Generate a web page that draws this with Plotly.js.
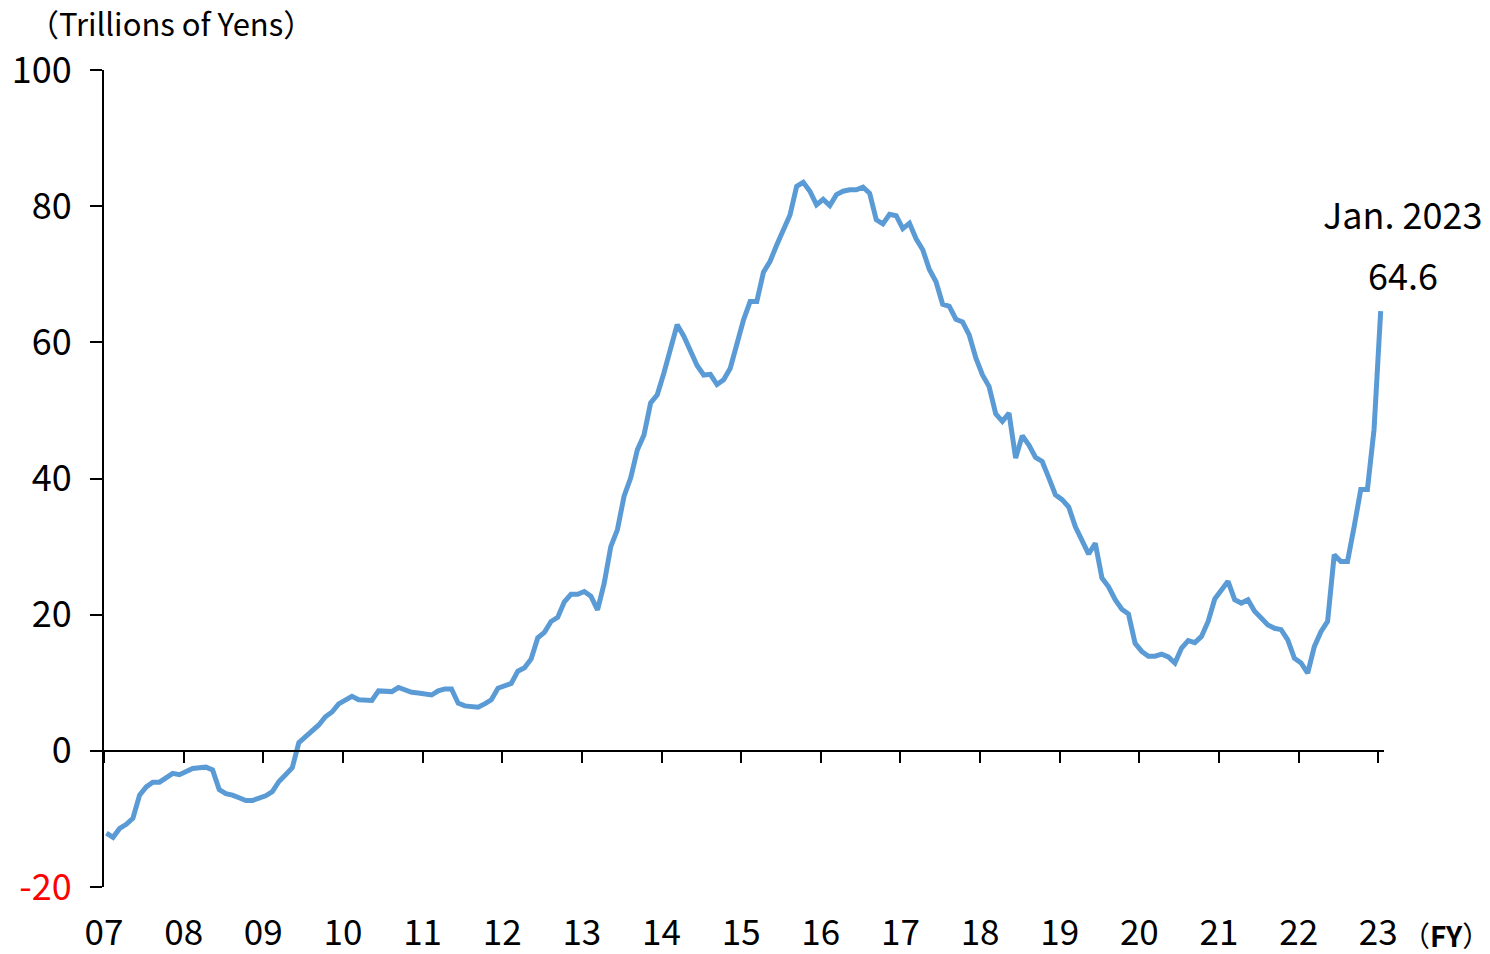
<!DOCTYPE html>
<html>
<head>
<meta charset="utf-8">
<script src="https://cdn.plot.ly/plotly-3.0.1.min.js"></script>
<style>
  html, body { margin: 0; padding: 0; background: #fff; }
  #chart { width: 1490px; height: 954px; }
</style>
</head>
<body>
<div id="chart"></div>
<script>
// Monthly values, Jan. 2007 through Jan. 2023 (trillions of yen)
const months = [
  "2007-01","2007-02","2007-03","2007-04","2007-05","2007-06","2007-07","2007-08","2007-09","2007-10","2007-11","2007-12",
  "2008-01","2008-02","2008-03","2008-04","2008-05","2008-06","2008-07","2008-08","2008-09","2008-10","2008-11","2008-12",
  "2009-01","2009-02","2009-03","2009-04","2009-05","2009-06","2009-07","2009-08","2009-09","2009-10","2009-11","2009-12",
  "2010-01","2010-02","2010-03","2010-04","2010-05","2010-06","2010-07","2010-08","2010-09","2010-10","2010-11","2010-12",
  "2011-01","2011-02","2011-03","2011-04","2011-05","2011-06","2011-07","2011-08","2011-09","2011-10","2011-11","2011-12",
  "2012-01","2012-02","2012-03","2012-04","2012-05","2012-06","2012-07","2012-08","2012-09","2012-10","2012-11","2012-12",
  "2013-01","2013-02","2013-03","2013-04","2013-05","2013-06","2013-07","2013-08","2013-09","2013-10","2013-11","2013-12",
  "2014-01","2014-02","2014-03","2014-04","2014-05","2014-06","2014-07","2014-08","2014-09","2014-10","2014-11","2014-12",
  "2015-01","2015-02","2015-03","2015-04","2015-05","2015-06","2015-07","2015-08","2015-09","2015-10","2015-11","2015-12",
  "2016-01","2016-02","2016-03","2016-04","2016-05","2016-06","2016-07","2016-08","2016-09","2016-10","2016-11","2016-12",
  "2017-01","2017-02","2017-03","2017-04","2017-05","2017-06","2017-07","2017-08","2017-09","2017-10","2017-11","2017-12",
  "2018-01","2018-02","2018-03","2018-04","2018-05","2018-06","2018-07","2018-08","2018-09","2018-10","2018-11","2018-12",
  "2019-01","2019-02","2019-03","2019-04","2019-05","2019-06","2019-07","2019-08","2019-09","2019-10","2019-11","2019-12",
  "2020-01","2020-02","2020-03","2020-04","2020-05","2020-06","2020-07","2020-08","2020-09","2020-10","2020-11","2020-12",
  "2021-01","2021-02","2021-03","2021-04","2021-05","2021-06","2021-07","2021-08","2021-09","2021-10","2021-11","2021-12",
  "2022-01","2022-02","2022-03","2022-04","2022-05","2022-06","2022-07","2022-08","2022-09","2022-10","2022-11","2022-12",
  "2023-01"
];

const values = [
  -12.1, -12.7, -11.4, -10.8, -9.9, -6.5, -5.3, -4.6, -4.6, -4.0, -3.3, -3.5,
  -3.0, -2.6, -2.5, -2.4, -2.8, -5.7, -6.3, -6.5, -6.9, -7.3, -7.3, -6.9,
  -6.6, -6.0, -4.5, -3.5, -2.5, 1.2, 2.1, 3.0, 3.8, 5.0, 5.7, 6.9,
  7.5, 8.0, 7.5, 7.4, 7.4, 8.8, 8.8, 8.7, 9.3, 9.0, 8.6, 8.5,
  8.3, 8.2, 8.8, 9.1, 9.1, 7.0, 6.6, 6.5, 6.4, 6.9, 7.5, 9.2,
  9.5, 9.9, 11.7, 12.2, 13.5, 16.6, 17.4, 19.0, 19.6, 21.9, 23.0, 23.0,
  23.4, 22.7, 20.7, 24.6, 30.0, 32.5, 37.4, 40.1, 44.2, 46.4, 51.1, 52.3,
  55.5, 59.2, 62.6, 60.9, 58.8, 56.6, 55.2, 55.3, 53.8, 54.5, 56.2, 59.6,
  63.3, 66.0, 66.0, 70.3, 71.9, 74.3, 76.5, 78.7, 82.9, 83.5, 82.2, 80.2,
  81.0, 80.1, 81.7, 82.2, 82.4, 82.4, 82.8, 81.9, 78.0, 77.4, 78.8, 78.6,
  76.7, 77.5, 75.2, 73.6, 70.7, 68.9, 65.6, 65.3, 63.4, 63.0, 61.1, 57.7,
  55.2, 53.5, 49.5, 48.4, 49.6, 43.0, 46.3, 44.9, 43.1, 42.5, 40.1, 37.6,
  36.9, 35.8, 32.9, 30.7, 28.9, 30.5, 25.4, 24.1, 22.2, 20.8, 20.1, 15.8,
  14.6, 13.9, 13.9, 14.2, 13.8, 12.9, 15.1, 16.2, 15.9, 16.8, 19.0, 22.3,
  23.6, 24.9, 22.2, 21.7, 22.2, 20.5, 19.5, 18.5, 18.0, 17.8, 16.3, 13.6,
  12.9, 11.4, 15.3, 17.5, 19.0, 28.8, 27.8, 27.8, 32.9, 38.4, 38.4, 47.2,
  64.6
];

const yearLabels = ["07","08","09","10","11","12","13","14","15","16","17","18","19","20","21","22","23"];
const yTicks = [-20, 0, 20, 40, 60, 80, 100];
const lastLabel = "Jan. 2023";

const FONT = '"Noto Sans CJK JP", "Noto Sans", sans-serif';
const LINE_BLUE = "#5B9BD5";
const TICK_OFFSET = -0.36;   // year ticks sit just left of the first month of each year

const xIdx = months.map((_, i) => i);
const lastI = xIdx[xIdx.length - 1];
const lastV = values[values.length - 1];

const trace = {
  type: "scatter",
  mode: "lines",
  x: xIdx,
  y: values,
  line: { color: LINE_BLUE, width: 5 },
  hoverinfo: "skip"
};

const layout = {
  width: 1490,
  height: 954,
  margin: { l: 104, r: 106, t: 70, b: 67 },
  paper_bgcolor: "#fff",
  plot_bgcolor: "#fff",
  showlegend: false,
  font: { family: FONT, color: "#000" },
  xaxis: {
    range: [TICK_OFFSET, lastI + 0.5],
    anchor: "free",
    position: (0 - yTicks[0]) / (yTicks[yTicks.length - 1] - yTicks[0]),
    showgrid: false,
    zeroline: false,
    showline: true,
    linecolor: "#000",
    linewidth: 2,
    ticks: "outside",
    ticklen: 11,
    tickwidth: 2,
    tickcolor: "#000",
    tickmode: "array",
    tickvals: yearLabels.map((_, k) => k * 12 + TICK_OFFSET),
    ticktext: yearLabels,
    ticklabelstandoff: 140,
    tickfont: { family: FONT, size: 35, color: "#000" }
  },
  yaxis: {
    range: [yTicks[0], yTicks[yTicks.length - 1]],
    showgrid: false,
    zeroline: false,
    showline: true,
    linecolor: "#000",
    linewidth: 2,
    ticks: "outside",
    ticklen: 12,
    tickwidth: 2,
    tickcolor: "#000",
    tickmode: "array",
    tickvals: yTicks,
    ticktext: yTicks.map(v => v < 0 ? '<span style="color:#FF0000">' + v + '</span>' : String(v)),
    ticklabelstandoff: 11,
    tickfont: { family: FONT, size: 36, color: "#000" }
  },
  annotations: [
    {
      xref: "paper", yref: "paper",
      x: -0.061, y: 1, xanchor: "left", yanchor: "bottom",
      yshift: 23,
      text: "（Trillions of Yens）",
      showarrow: false,
      font: { family: FONT, size: 31, color: "#000" }
    },
    {
      xref: "x", yref: "y",
      x: lastI, y: lastV,
      xanchor: "center", yanchor: "middle",
      xshift: 22, yshift: 98,
      text: lastLabel,
      showarrow: false,
      font: { family: FONT, size: 36, color: "#000" }
    },
    {
      xref: "x", yref: "y",
      x: lastI, y: lastV,
      xanchor: "center", yanchor: "middle",
      xshift: 22, yshift: 37,
      text: lastV.toFixed(1),
      showarrow: false,
      font: { family: FONT, size: 36, color: "#000" }
    },
    {
      xref: "paper", yref: "paper",
      x: 1, y: 0, xanchor: "left", yanchor: "middle",
      xshift: 16, yshift: -48,
      text: "（<b>FY</b>）",
      showarrow: false,
      font: { family: FONT, size: 28, color: "#000" }
    }
  ]
};

Plotly.newPlot("chart", [trace], layout, { displayModeBar: false, staticPlot: true });
</script>
</body>
</html>
